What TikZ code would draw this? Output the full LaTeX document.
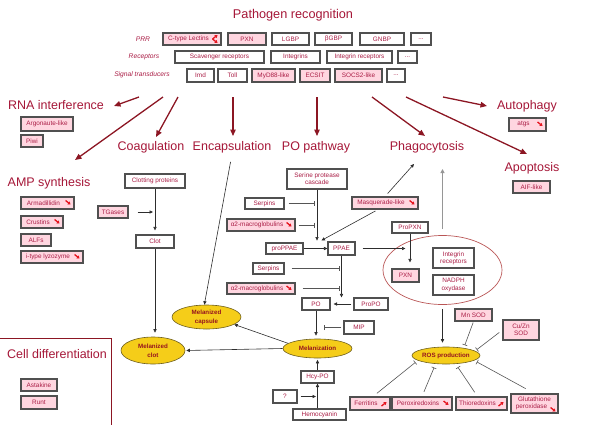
\documentclass[tikz,border=0pt]{standalone}
\usepackage{fontspec}
\setmainfont{Liberation Sans}
\usetikzlibrary{shapes.geometric,arrows.meta}
\definecolor{hd}{RGB}{165,22,55}
\definecolor{bt}{RGB}{170,30,70}
\definecolor{pk}{RGB}{255,214,224}
\definecolor{bd}{RGB}{80,80,80}
\definecolor{ma}{RGB}{140,22,35}
\definecolor{yl}{RGB}{245,205,25}
\definecolor{yb}{RGB}{110,95,30}
\definecolor{et}{RGB}{150,20,30}
\definecolor{ebd}{RGB}{185,85,85}
\definecolor{ln}{RGB}{45,45,45}
\definecolor{il}{RGB}{85,85,85}
\definecolor{ga}{RGB}{150,150,150}
\definecolor{ic}{RGB}{230,20,30}
\newcommand\bx[7][]{%
  \node[wbox,#1,minimum width={(#5-#3)*1pt},minimum height={(#6-#4)*1pt}] (#2) at ({(#3+#5)/2},{(#4+#6)/2}) {#7};}
\newcommand\dnicon[1]{\draw[icn] ([shift={(-9,-2.5)}]#1.east) -- ++(5,4);}
\newcommand\upicon[1]{\draw[icn] ([shift={(-9,2.5)}]#1.east) -- ++(5,-4);}
\tikzset{
  wbox/.style={draw=bd, line width=1.1pt, fill=white, text=bt, font=\fontsize{6.4}{7.3}\selectfont, inner sep=0pt, align=center},
  pbox/.style={fill=pk},
  head/.style={text=hd, font=\fontsize{12.5}{14}\selectfont, inner sep=1pt},
  lab/.style={text=bt, font=\fontsize{6.7}{8}\selectfont\itshape, inner sep=0pt},
  big/.style={draw=ma, line width=1.3pt, -{Triangle[length=6.5pt,width=5.5pt]}},
  arr/.style={draw=ln, line width=0.6pt, -{Triangle[length=3.5pt,width=3.2pt]}},
  inh/.style={draw=il, line width=0.6pt, -{Bar[width=5pt]}},
  yell/.style={ellipse, draw=yb, line width=0.6pt, fill=yl, text=et, font=\fontsize{6.2}{9}\selectfont\bfseries, inner sep=0pt, align=center},
  icn/.style={draw=ic, line width=1.3pt, -{Triangle[length=2.6pt,width=3.4pt]}}
}
\begin{document}
\begin{tikzpicture}[x=1pt,y=-1pt]
\useasboundingbox (0,0) rectangle (600,424);
% headings
\node[head, font=\fontsize{12.7}{14}\selectfont] (title) at (293,15) {Pathogen recognition};
\node[head] (rnai) at (56,105) {RNA interference};
\node[head] (amp) at (49,183) {AMP synthesis};
\node[head] (coag) at (151,147) {Coagulation};
\node[head] (encap) at (232,147) {Encapsulation};
\node[head] (popath) at (316,147) {PO pathway};
\node[head] (phago) at (427,147) {Phagocytosis};
\node[head] (apop) at (532,168) {Apoptosis};
\node[head] (autoph) at (527,106) {Autophagy};
% row labels
\node[lab] (lprr) at (143,39) {PRR};
\node[lab] (lrec) at (144,57) {Receptors};
\node[lab] (lsig) at (142,75) {Signal transducers};
% top rows
\bx[pbox]{ctl}{163}{33}{221}{45}{C-type Lectins\hspace*{7pt}}
\bx[pbox]{pxna}{228}{33}{266}{45}{PXN}
\bx{lgbp}{272}{33}{309}{45}{LGBP}
\bx{bgbp}{315}{33}{352}{45}{βGBP}
\bx{gnbp}{360}{33}{404}{45}{GNBP}
\bx{dota}{411}{33}{431}{45}{...}
\bx{scav}{175}{51}{264}{63}{Scavenger receptors}
\bx{intg}{271}{51}{320}{63}{Integrins}
\bx{intr}{327}{51}{392}{63}{Integrin receptors}
\bx{dotb}{398}{51}{417}{63}{...}
\bx{imd}{187}{69}{214}{82}{Imd}
\bx{toll}{218}{69}{247}{82}{Toll}
\bx[pbox]{myd}{252}{69}{295}{82}{MyD88-like}
\bx[pbox]{ecsit}{300}{69}{330}{82}{ECSIT}
\bx[pbox]{socs}{335}{69}{382}{82}{SOCS2-like}
\bx{dotc}{387}{69}{405}{82}{...}
% left boxes
\bx[pbox]{argo}{21}{117}{73}{131}{Argonaute-like}
\bx[pbox]{piwi}{21}{135}{43}{147}{Piwi}
\bx[pbox]{arma}{21}{197}{74}{209}{Armadillidin\hspace*{8pt}}
\bx[pbox]{crus}{21}{216}{63}{228}{Crustins\hspace*{8pt}}
\bx[pbox]{alfs}{21}{234}{51}{246}{ALFs}
\bx[pbox]{lyz}{21}{251}{83}{263}{i-type lyzozyme\hspace*{8pt}}
\bx[pbox]{atgs}{509}{118}{546}{131}{atgs\hspace*{8pt}}
\bx[pbox]{aif}{513}{181}{550}{193}{AIF-like}
% coagulation
\bx{clotp}{125}{174}{185}{188}{Clotting proteins}
\bx[pbox]{tgas}{98}{206}{128}{218}{TGases}
\bx{clot}{136}{235}{174}{248}{Clot}
% PO pathway
\bx{spc}{287}{169}{347}{189}{Serine protease\\cascade}
\bx{serpa}{245}{198}{284}{209}{Serpins}
\bx[pbox]{amga}{227}{219}{295}{231}{α2-macroglobulins\hspace*{8pt}}
\bx{proppae}{266}{243}{303}{254}{proPPAE}
\bx{ppae}{328}{242}{355}{255}{PPAE}
\bx[pbox]{masq}{352}{197}{418}{209}{Masquerade-like\hspace*{8pt}}
\bx{serpb}{253}{263}{284}{274}{Serpins}
\bx[pbox]{amgb}{227}{283}{295}{294}{α2-macroglobulins\hspace*{8pt}}
\bx{po}{302}{298}{330}{310}{PO}
\bx{propo}{354}{298}{388}{310}{ProPO}
\bx{mip}{344}{321}{374}{334}{MIP}
\bx{hcypo}{301}{371}{334}{383}{Hcy-PO}
\bx{q}{273}{390}{297}{403}{?}
\bx{hemo}{293}{409}{346}{420}{Hemocyanin}
% phagocytosis ellipse
\node[ellipse, draw=ebd, line width=0.7pt, minimum width=119pt, minimum height=69pt, inner sep=0pt] (bigell) at (442.5,270) {};
\bx{propxn}{392}{222}{428}{233}{ProPXN}
\bx[pbox]{pxnb}{392}{269}{419}{282}{PXN}
\bx{intrb}{433}{248}{474}{268}{Integrin\\receptors}
\bx{nadph}{433}{275}{474}{295}{NADPH\\oxydase}
% ROS
\bx[pbox]{mnsod}{455}{309}{492}{321}{Mn SOD}
\bx[pbox]{cuzn}{503}{320}{539}{340}{Cu/Zn\\SOD}
\bx[pbox]{ferr}{350}{397}{390}{410}{Ferritins\hspace*{8pt}}
\bx[pbox]{perox}{392}{397}{452}{410}{Peroxiredoxins\hspace*{8pt}}
\bx[pbox]{thio}{456}{397}{507}{410}{Thioredoxins\hspace*{8pt}}
\bx[pbox]{glut}{511}{394}{558}{413}{Glutathione\\peroxidase\hspace*{6pt}}
% yellow ellipses
\node[yell, minimum width=64pt, minimum height=27pt] (mclot) at (153,350.5) {Melanized\\clot};
\node[yell, minimum width=69pt, minimum height=24pt] (mcaps) at (206.5,317) {Melanized\\capsule};
\node[yell, minimum width=69pt, minimum height=19pt] (melan) at (317.5,348.5) {Melanization};
\node[yell, minimum width=68pt, minimum height=17pt] (ros) at (446,355.5) {ROS production};
% cell differentiation
\draw[draw=ma, line width=0.8pt] (-2,338) -| (111,426);
\node[head] (celld) at (57,354) {Cell differentiation};
\bx[pbox]{asta}{21}{379}{57}{391}{Astakine}
\bx[pbox]{runt}{21}{396}{57}{409}{Runt}
% icons
\draw[icn] ([shift={(-9,0)}]ctl.east) -- ++(5,-4);
\draw[icn] ([shift={(-9,0)}]ctl.east) -- ++(5,4);
\dnicon{arma}\dnicon{crus}\dnicon{lyz}\dnicon{atgs}\dnicon{amga}\dnicon{amgb}\dnicon{masq}\dnicon{perox}
\upicon{ferr}\upicon{thio}
\draw[icn] ([shift={(-8,4)}]glut.east) -- ++(5,4);
% main arrows
\coordinate (s1) at (139,97); \coordinate (e1) at (114,106);
\coordinate (s2) at (163,97); \coordinate (e2) at (75,160);
\coordinate (s3) at (178,97); \coordinate (e3) at (156,137);
\coordinate (s4) at (233,97); \coordinate (e4) at (233,136);
\coordinate (s5) at (317,97); \coordinate (e5) at (317,136);
\coordinate (s6) at (372,97); \coordinate (e6) at (425,136);
\coordinate (s7) at (406,97); \coordinate (e7) at (527,154);
\coordinate (s8) at (443,97); \coordinate (e8) at (487,106);
\foreach \i in {1,...,8} {\draw[big] (s\i) -- (e\i);}
% coagulation connectors
\draw[arr, shorten >=4pt] (clotp.south) -- (clot.north);
\draw[arr, shorten <=9pt, shorten >=2pt] (tgas.east) -- (tgas.east -| clotp.south);
\draw[arr, shorten >=4pt] (clot.south) -- (clot.south |- mclot.north);
% melanization
\draw[arr, shorten >=1pt] (melan.west) -- (mclot.east);
\draw[arr] (melan.170) -- (mcaps.-15);
\draw[arr, shorten <=8pt] (encap.south) -- (mcaps.100);
% PO pathway
\draw[arr] (spc.south) -- ++(0,51);
\draw[inh, shorten <=4pt, shorten >=2pt] (serpa.east) -- (serpa.east -| spc.south);
\draw[inh, shorten <=3pt, shorten >=2pt] (amga.east) -- (amga.east -| spc.south);
\draw[arr] (proppae.east) -- (ppae.west);
\draw[arr, shorten <=3pt] ([xshift=-7pt]masq.south) -- ([shift={(-6,-1)}]ppae.north west);
\coordinate (phin) at (414,164);
\draw[arr, shorten <=4pt] (masq.north) -- (phin);
\coordinate (phgr) at (442.5,169);
\draw[draw=ga, line width=1.3pt, -{Triangle[length=4pt,width=4pt]}, shorten <=6pt] (bigell.north) -- (phgr);
\draw[arr, shorten <=7pt] (ppae.east) -- (ppae.east -| pxnb);
\draw[arr, shorten >=6pt] (propxn.south) -- (propxn.south |- pxnb.north);
\draw[inh, shorten <=7pt, shorten >=2pt] (serpb.east) -- (serpb.east -| ppae.south);
\draw[inh, shorten <=7pt, shorten >=2pt] (amgb.east) -- (amgb.east -| ppae.south);
\draw[arr] (ppae.south) -- (ppae.south |- propo.north);
\draw[arr, shorten <=2pt, shorten >=3pt] (propo.west) -- (po.east);
\draw[arr, shorten >=3pt] (po.south) -- (po.south |- melan.north);
\draw[inh, shorten <=2pt, shorten >=8pt] (mip.west) -- (mip.west -| po.south);
\draw[arr, shorten >=1.5pt] (hcypo.north) -- (hcypo.north |- melan.south);
\draw[arr] (hemo.north -| hcypo.south) -- (hcypo.south);
\draw[arr, shorten <=3pt, shorten >=1.5pt] (q.east) -- (q.east -| hcypo.south);
% ROS
\draw[arr, shorten <=4pt, shorten >=4pt] (bigell.south) -- (bigell.south |- ros.north);
\draw[inh, shorten <=1pt, shorten >=3pt] (mnsod.south) -- (ros.23);
\draw[inh, shorten <=4pt, shorten >=2pt] (cuzn.west) -- (ros.9);
\draw[inh, shorten <=5pt, shorten >=3pt] ([xshift=3pt]ferr.north) -- (ros.190);
\draw[inh, shorten <=5pt, shorten >=4pt] (perox.north) -- (ros.219);
\draw[inh, shorten <=5pt, shorten >=4pt] ([xshift=-4pt]thio.north) -- (ros.319);
\draw[inh, shorten <=10pt, shorten >=3pt] (glut.north) -- (ros.350);
\end{tikzpicture}
\end{document}
